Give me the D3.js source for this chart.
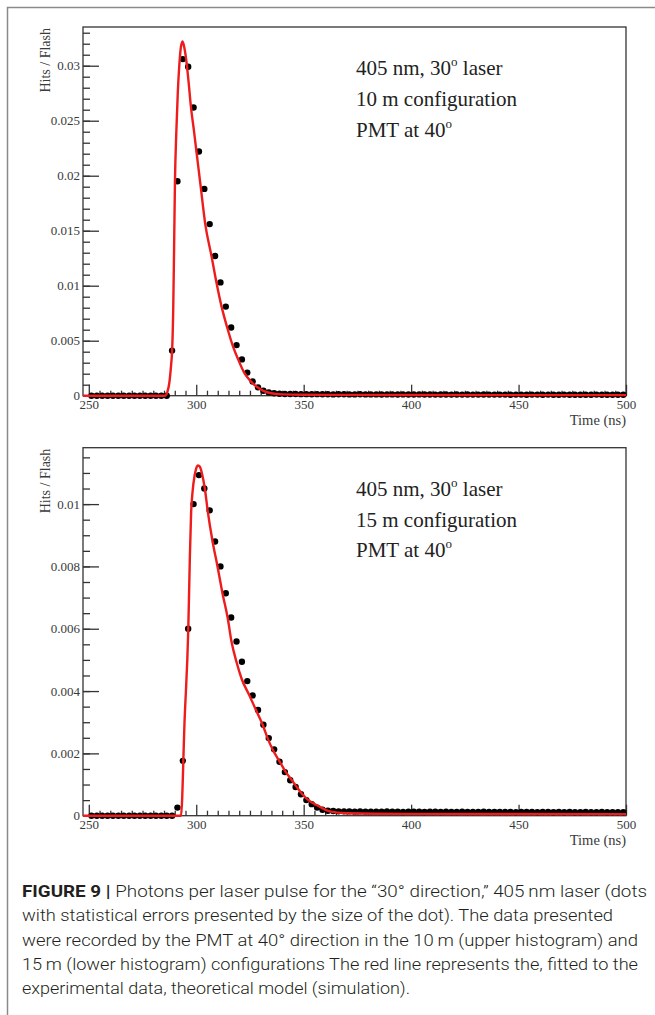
<!DOCTYPE html>
<html lang="en">
	<head>
		<meta charset="utf-8">
		<title>Figure 9</title>
		<script type="text/javascript" src="https://cdn.jsdelivr.net/npm/d3@7"></script>
		<style type="text/css">
			body{
				margin: 0;
				background: white;
			}
			.tick text{
				font-family: "Liberation Serif", serif;
				font-size: 13px;
				fill: #3a3a3a;
			}
			.tick line{
				stroke: #333;
				stroke-width: 1.3px;
			}
			.note{
				font-family: "Liberation Serif", serif;
				font-size: 21px;
				fill: #222;
			}
			.alabel{
				font-family: "Liberation Serif", serif;
				fill: #3a3a3a;
			}
			.caption{
				font-family: Roboto, sans-serif;
				font-weight: 300;
				fill: #231f20;
			}
		</style>
	</head>
	<body>
		<div class="chart"></div>
		<script type="text/javascript">

			var w = 655;
			var h = 1015;

			// histogram bins: 2.5 ns wide starting at 250 ns
			var binStart = 250;
			var binWidth = 2.5;

			var xTicks = [250, 300, 350, 400, 450, 500];
			var topYTicks = [0, 0.005, 0.01, 0.015, 0.02, 0.025, 0.03];
			var bottomYTicks = [0, 0.002, 0.004, 0.006, 0.008, 0.01];

			// 10 m configuration, hits per flash in each bin
			var topHits = [
				0, 0, 0, 0, 0, 0, 0, 0, 0, 0, 0, 0, 0, 0, 0,
				0.0041, 0.0195, 0.0306, 0.0299, 0.0262, 0.0222, 0.0188, 0.0156, 0.0127, 0.0103,
				0.0081, 0.0062, 0.0046, 0.0033, 0.0021, 0.0013, 0.00076, 0.00045, 0.0003, 0.00022, 0.00018,
				0.00016, 0.00015, 0.00015, 0.00014, 0.00014, 0.00013, 0.00014, 0.00013,
				0.00013, 0.00012, 0.00013, 0.00013, 0.00012, 0.00012, 0.00013, 0.00012,
				0.00012, 0.00012, 0.00011, 0.00012, 0.00012, 0.00011, 0.00012, 0.00011,
				0.00011, 0.00012, 0.00011, 0.00011, 0.00010, 0.00011, 0.00011, 0.00010,
				0.00011, 0.00010, 0.00011, 0.00010, 0.00010, 0.00011, 0.00010, 0.00010,
				0.00010, 0.00010, 0.00009, 0.00010, 0.00010, 0.00009, 0.00010, 0.00010,
				0.00009, 0.00010, 0.00009, 0.00009, 0.00010, 0.00009, 0.00009, 0.00009,
				0.00009, 0.00009, 0.00010, 0.00009, 0.00009, 0.00009, 0.00009, 0.00009
			];

			// 15 m configuration
			var bottomHits = [
				0, 0, 0, 0, 0, 0, 0, 0, 0, 0, 0, 0, 0, 0, 0, 0,
				0.00026, 0.00176, 0.0060, 0.0100, 0.01093, 0.0105, 0.0098, 0.0088, 0.0080, 0.00714,
				0.00636, 0.00559, 0.00494, 0.00432, 0.00386, 0.00339, 0.00292, 0.00249, 0.00213, 0.00173,
				0.0014, 0.00114, 0.00092, 0.00069, 0.0005, 0.00037, 0.00026, 0.00019, 0.00016,
				0.00015, 0.00014, 0.00014, 0.00014, 0.00013, 0.00014, 0.00013, 0.00013,
				0.00013, 0.00013, 0.00014, 0.00013, 0.00013, 0.00012, 0.00013, 0.00013,
				0.00013, 0.00012, 0.00013, 0.00013, 0.00012, 0.00013, 0.00012, 0.00012,
				0.00013, 0.00012, 0.00012, 0.00012, 0.00013, 0.00012, 0.00012, 0.00012,
				0.00012, 0.00012, 0.00011, 0.00012, 0.00012, 0.00012, 0.00011, 0.00012,
				0.00012, 0.00011, 0.00012, 0.00011, 0.00012, 0.00011, 0.00011, 0.00012,
				0.00011, 0.00011, 0.00012, 0.00011, 0.00011, 0.00011, 0.00011
			];

			// simulation curves [time, hits]
			var topFit = [
				[247.3, 0], [285.5, 0], [286.5, 0.0003], [287.5, 0.0012], [288.3, 0.0028], [288.8, 0.0042],
				[289.3, 0.008], [289.7, 0.0135], [290.1, 0.0195], [290.7, 0.0238], [291.4, 0.0275],
				[292.1, 0.0300], [292.8, 0.0316], [293.6, 0.0322], [294.4, 0.0317], [295.3, 0.0306],
				[296.5, 0.0284], [297.5, 0.0263], [298.8, 0.0243], [300.1, 0.0222], [302.2, 0.0188],
				[304.2, 0.0156], [307.1, 0.0127], [309.4, 0.0103], [311.8, 0.0081], [314.4, 0.0062],
				[316.9, 0.0046], [319.5, 0.0033], [322.3, 0.0021], [325.4, 0.0013], [328.5, 0.00076],
				[331.5, 0.00042], [335, 0.00022], [340, 0.00012], [350, 0.00008], [400, 0.00006], [500, 0.00005]
			];

			var bottomFit = [
				[247.3, 0], [292.9, 0], [294.6, 0.0031], [296.3, 0.0060], [297.0, 0.0082], [297.6, 0.0097],
				[298.3, 0.0104], [299.2, 0.0109], [300.0, 0.01115], [300.8, 0.01124], [301.7, 0.0112],
				[302.6, 0.0110], [304.0, 0.0105], [305.3, 0.0098], [307.6, 0.0088], [309.9, 0.0080],
				[312.2, 0.00714], [314.6, 0.00636], [316.4, 0.00559], [318.7, 0.00494], [321.2, 0.00438],
				[324.6, 0.00388], [327.8, 0.00339], [330.9, 0.00292], [333.2, 0.00249], [335.5, 0.00213],
				[338.9, 0.00173], [341.7, 0.0014], [344.5, 0.00114], [346.8, 0.00092], [349.4, 0.00069],
				[352.2, 0.0005], [357.2, 0.0003], [362, 0.00014], [370, 0.00008], [400, 0.00006], [500, 0.00005]
			];

			var topNote = ["405 nm, 30", " laser", "10 m configuration", "PMT at 40"];
			var bottomNote = ["405 nm, 30", " laser", "15 m configuration", "PMT at 40"];

			var captionLines = [
				"Photons per laser pulse for the \u201c30\u00b0 direction,\u201d 405\u2009nm laser (dots",
				"with statistical errors presented by the size of the dot). The data presented",
				"were recorded by the PMT at 40\u00b0 direction in the 10\u2009m (upper histogram) and",
				"15\u2009m (lower histogram) configurations The red line represents the, fitted to the",
				"experimental data, theoretical model (simulation)."
			];
			// right end of each printed caption line
			var captionEnds = [647, 613, 638, 638, 410];

			var svg = d3.select("div.chart")
						.append("svg")
						.attr("width", w)
						.attr("height", h);

			svg.append("rect")
				.attr("width", w)
				.attr("height", h)
				.attr("fill", "white");

			// figure border
			svg.append("path")
				.attr("d", "M7.5," + h + "V7.5H" + w)
				.attr("fill", "none")
				.attr("stroke", "#8a8a8a")
				.attr("stroke-width", 1.5);

			var xScale = d3.scaleLinear()
						.domain([247.3, 500])
						.range([83, 626]);

			var panels = [
				{hits: topHits, fit: topFit, yMax: 0.03352, top: 27, bottom: 395.7, ticks: topYTicks, minor: 0.001, note: topNote},
				{hits: bottomHits, fit: bottomFit, yMax: 0.01181, top: 447.7, bottom: 815.7, ticks: bottomYTicks, minor: 0.0005, note: bottomNote}
			];

			panels.forEach(function(p){

				var yScale = d3.scaleLinear()
							.domain([0, p.yMax])
							.range([p.bottom, p.top]);

				var g = svg.append("g");

				// minor ticks
				g.append("g")
					.attr("transform", "translate(" + xScale.range()[0] + ",0)")
					.call(d3.axisLeft(yScale)
						.tickValues(d3.range(0, p.yMax, p.minor))
						.tickSize(-7)
						.tickFormat(""))
					.call(a => a.select(".domain").remove());

				g.append("g")
					.attr("transform", "translate(" + xScale.range()[0] + ",0)")
					.call(d3.axisLeft(yScale)
						.tickValues(p.ticks)
						.tickSize(-16)
						.tickPadding(3)
						.tickFormat(d3.format("~g")))
					.call(a => a.select(".domain").remove());

				g.append("g")
					.attr("transform", "translate(0," + p.bottom + ")")
					.call(d3.axisBottom(xScale)
						.tickValues(d3.range(255, 500, 5).filter(d => d % 50 != 0))
						.tickSize(-5)
						.tickFormat(""))
					.call(a => a.select(".domain").remove());

				g.append("g")
					.attr("transform", "translate(0," + p.bottom + ")")
					.call(d3.axisBottom(xScale)
						.tickValues(xTicks)
						.tickSize(-11)
						.tickPadding(4))
					.call(a => a.select(".domain").remove());

				// frame
				g.append("rect")
					.attr("x", xScale.range()[0])
					.attr("y", p.top)
					.attr("width", xScale.range()[1] - xScale.range()[0])
					.attr("height", p.bottom - p.top)
					.attr("fill", "none")
					.attr("stroke", "#333")
					.attr("stroke-width", 1.3);

				g.selectAll("circle")
					.data(p.hits)
					.enter()
					.append("circle")
					.attr("cx", (d, i) => xScale(binStart + binWidth * (i + 0.5)))
					.attr("cy", d => yScale(d))
					.attr("r", 3.2)
					.attr("fill", "black");

				var line = d3.line()
							.x(d => xScale(d[0]))
							.y(d => yScale(d[1]))
							.curve(d3.curveMonotoneX);

				g.append("path")
					.datum(p.fit)
					.attr("d", line)
					.attr("fill", "none")
					.attr("stroke", "#ee1c1c")
					.attr("stroke-width", 2.4)
					.attr("stroke-linejoin", "round");

				// axis titles
				g.append("text")
					.attr("class", "alabel")
					.attr("transform", "translate(50," + (p.top + 1) + ") rotate(-90)")
					.attr("text-anchor", "end")
					.attr("font-size", "14px")
					.text("Hits / Flash");

				g.append("text")
					.attr("class", "alabel")
					.attr("x", xScale.range()[1])
					.attr("y", p.bottom + 29.5)
					.attr("text-anchor", "end")
					.attr("font-size", "14.5px")
					.text("Time (ns)");

				// annotation
				var nx = 356, ny = p.top + 48;
				var t1 = g.append("text")
					.attr("class", "note")
					.attr("x", nx)
					.attr("y", ny);
				t1.append("tspan").text(p.note[0]);
				t1.append("tspan").attr("dy", -9).attr("font-size", "13px").text("o");
				t1.append("tspan").attr("dy", 9).text(p.note[1]);

				g.append("text")
					.attr("class", "note")
					.attr("x", nx)
					.attr("y", ny + 30.8)
					.text(p.note[2]);

				var t3 = g.append("text")
					.attr("class", "note")
					.attr("x", nx)
					.attr("y", ny + 61.6);
				t3.append("tspan").text(p.note[3]);
				t3.append("tspan").attr("dy", -9).attr("font-size", "13px").text("o");
			});

			// caption
			var cap = svg.append("g").attr("class", "caption");
			var capSize = 17.4;
			captionLines.forEach(function(s, i){
				var t = cap.append("text")
					.attr("x", 22)
					.attr("y", 897 + i * 24.3)
					.attr("font-size", capSize + "px")
					.attr("textLength", captionEnds[i] - 22)
					.attr("lengthAdjust", "spacingAndGlyphs");
				if(i == 0){
					t.append("tspan")
						.attr("font-weight", 700)
						.text("FIGURE 9 | ");
				}
				t.append("tspan").text(s);
			});

		</script>
	</body>
</html>
